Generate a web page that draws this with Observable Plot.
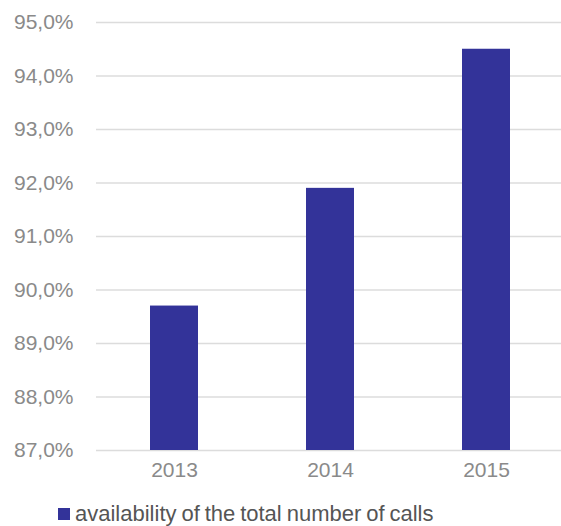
<!DOCTYPE html>
<html>
<head>
<meta charset="utf-8">
<script src="https://cdn.jsdelivr.net/npm/d3@7"></script>
<script src="https://cdn.jsdelivr.net/npm/@observablehq/plot@0.6"></script>
<style>
  html, body { margin: 0; padding: 0; background: #fff; }
  body { width: 561px; height: 526px; overflow: hidden; font-family: "Liberation Sans", Arial, sans-serif; }
  #legend { position: absolute; left: 58px; top: 503px; height: 22px; line-height: 22px; display: flex; align-items: center; font-size: 22px; color: #555; white-space: nowrap; word-spacing: -1.2px; }
  #legend .sw { width: 12px; height: 12px; background: #333399; margin-right: 5px; }
</style>
</head>
<body>
<div id="chart"></div>
<div id="legend"><span class="sw"></span><span>availability of the total number of calls</span></div>
<script>
const years = ["2013", "2014", "2015"];
const values = [89.7, 91.9, 94.5];
const yTicks = [87, 88, 89, 90, 91, 92, 93, 94, 95];
const yMin = 87, yMax = 95;
const seriesName = "availability of the total number of calls";

const data = years.map((y, i) => ({year: y, value: values[i]}));

const chart = Plot.plot({
  width: 561,
  height: 495,
  marginTop: 22,
  marginBottom: 45,
  marginLeft: 96,
  marginRight: 0,
  style: {fontFamily: "'Liberation Sans', Arial, sans-serif", background: "#fff"},
  x: {domain: years, range: [96, 565], paddingInner: 0.69, paddingOuter: 0.345, label: null},
  y: {domain: [yMin, yMax], label: null},
  marks: [
    Plot.ruleY(yTicks, {stroke: "#dcdcdc", strokeWidth: 1.5}),
    Plot.barY(data, {x: "year", y1: yMin, y2: "value", fill: "#333399"}),
    Plot.axisY({ticks: yTicks, tickSize: 0, tickPadding: 23, tickFormat: d => d.toFixed(1).replace(".", ",") + "%", fontSize: 21, fill: "#8a8a8a", label: null}),
    Plot.axisX({tickSize: 0, tickPadding: 12, fontSize: 21, fill: "#8a8a8a", label: null})
  ]
});
document.getElementById("chart").appendChild(chart);
</script>
</body>
</html>
